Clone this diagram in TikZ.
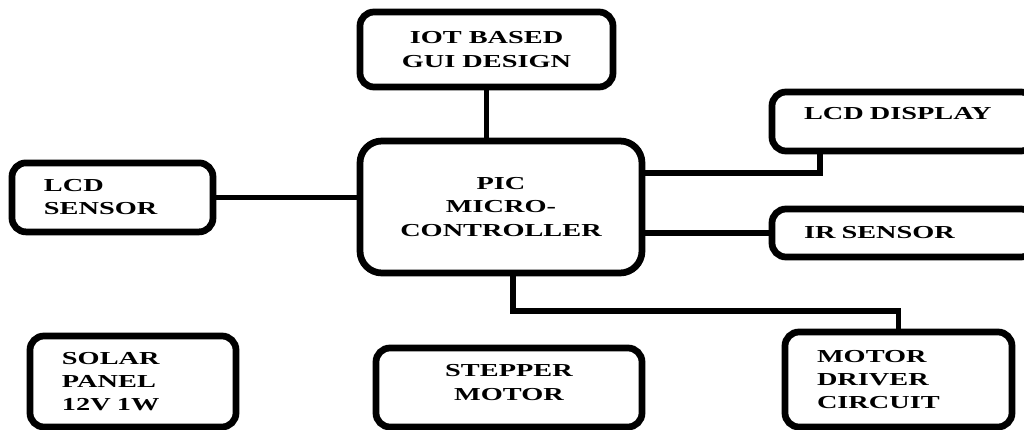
\documentclass[tikz,border=0pt]{standalone}
\usepackage{fontspec}
\newfontfamily\blockfont{Liberation Serif}[FakeStretch=1.55]
\usepackage{tikz}
\usetikzlibrary{positioning}

\begin{document}
\begin{tikzpicture}[
    node distance=1.2cm,
    block/.style={rectangle, draw, rounded corners=0.35cm, line width=4.8pt, outer sep=0pt, align=center, font=\blockfont\bfseries\fontsize{13}{16.5}\selectfont},
    leftblock/.style={block, align=left, inner xsep=0.8cm, text width=#1},
    link/.style={line width=4pt}
]

\useasboundingbox (-12.525,-5.575) rectangle (13.075,5.175);
\clip (-12.525,-5.575) rectangle (13.075,5.175);

% Controller
\node[block, minimum width=7.05cm, minimum height=3.3cm, rounded corners=0.55cm] (pic) {PIC\\MICRO-\\CONTROLLER};

% Top and sides
\node[block, minimum width=6.325cm, minimum height=1.875cm, above right=1.35cm and 0cm of pic.north west] (iot) {IOT BASED\\GUI DESIGN};
\node[leftblock=3.425cm, minimum height=1.725cm, left=3.675cm of pic, yshift=0.24cm] (lcdsensor) {LCD\\SENSOR};
\node[leftblock=4.975cm, minimum height=1.475cm, text depth=0.4cm, above right=1.4cm and 3.25cm of pic.east] (lcddisplay) {LCD DISPLAY};
\node[leftblock=4.975cm, minimum height=1.2cm, below right=1.45cm and 0cm of lcddisplay.south west] (irsensor) {IR SENSOR};

% Bottom row
\node[block, minimum width=6.65cm, minimum height=1.975cm, text depth=0.25cm, below right=1.875cm and 0.4cm of pic.south west] (stepper) {STEPPER\\MOTOR};
\node[leftblock=3.55cm, minimum height=2.275cm, above left=0cm and 3.5cm of stepper.south west] (solar) {SOLAR\\PANEL\\12V 1W};
\node[leftblock=4.075cm, minimum height=2.375cm, above right=0cm and 3.575cm of stepper.south east] (driver) {MOTOR\\DRIVER\\CIRCUIT};

% Links
\draw[link] (iot) -- (iot |- pic.north);
\draw[link] (lcdsensor) -- (lcdsensor -| pic.west);
\draw[link] ([yshift=0.85cm]pic.east) -| ([xshift=1.2cm]lcddisplay.south west);
\draw[link] (irsensor) -- (irsensor -| pic.east);
\draw[link] ([xshift=0.3cm]pic.south) -- ++(0,-0.95cm) -| (driver);

\end{tikzpicture}
\end{document}
